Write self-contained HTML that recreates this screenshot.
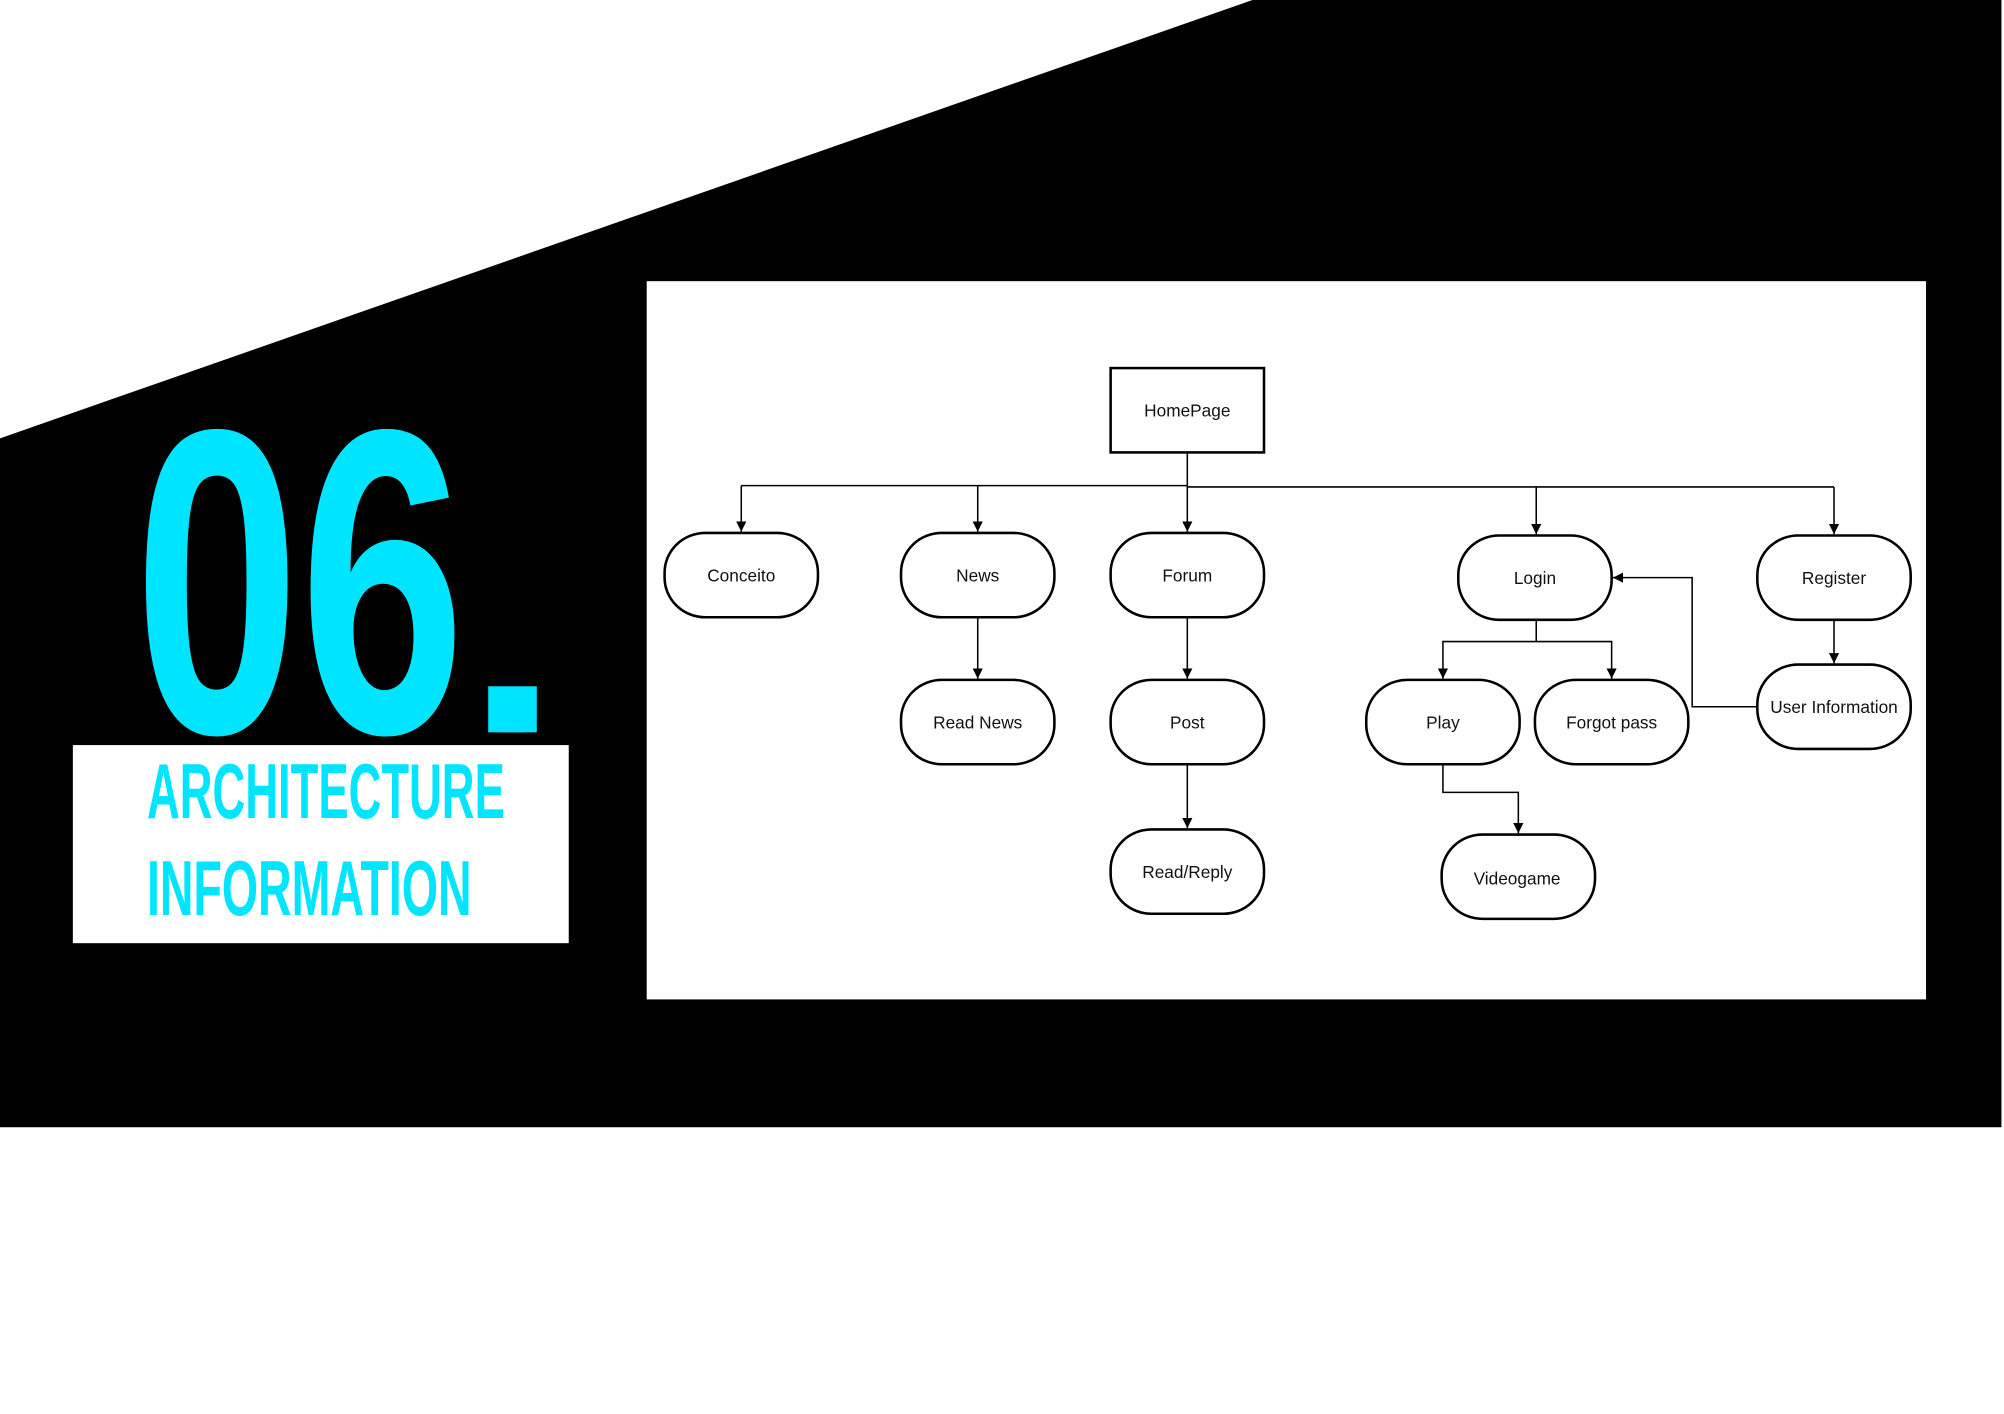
<!DOCTYPE html>
<html><head><meta charset="utf-8"><style>
html,body{margin:0;padding:0;background:#fff;width:2004px;height:1414px;overflow:hidden}
svg{display:block}
</style></head><body>
<svg width="2004" height="1414" viewBox="0 0 1568 1106.4" preserveAspectRatio="none" xmlns="http://www.w3.org/2000/svg">
<defs>
<marker id="a" viewBox="0 0 10 10" refX="10" refY="5" markerWidth="8" markerHeight="8" markerUnits="userSpaceOnUse" orient="auto">
<path d="M0,0 L10,5 L0,10 z" fill="#000"/></marker>
</defs>
<rect width="1568" height="1106.4" fill="#fff"/>
<polygon points="0,343 980,0 1566,0 1566,882 0,882" fill="#000"/>
<rect x="506" y="220" width="1001" height="562" fill="#fff"/>
<text x="105" y="573" font-family="Liberation Sans" font-weight="bold" font-size="340" fill="#00e5ff" textLength="259" lengthAdjust="spacingAndGlyphs">06</text>
<rect x="382" y="537" width="38" height="36" fill="#00e5ff"/>
<text x="380" y="573" font-family="Liberation Sans" font-weight="bold" font-size="240" fill="#00e5ff" textLength="40" lengthAdjust="spacingAndGlyphs">.</text>
<rect x="57" y="583" width="388" height="155" fill="#fff"/>
<text x="115" y="640" font-family="Liberation Sans" font-weight="bold" font-size="61" fill="#00e5ff" textLength="280" lengthAdjust="spacingAndGlyphs">ARCHITECTURE</text>
<text x="115" y="716" font-family="Liberation Sans" font-weight="bold" font-size="61" fill="#00e5ff" textLength="254" lengthAdjust="spacingAndGlyphs">INFORMATION</text>

<g fill="none" stroke="#000" stroke-width="1.2">
<path d="M929,354 V380"/>
<path d="M580,380 H929 M929,381 H1435"/>
<path d="M580,380 V416" marker-end="url(#a)"/>
<path d="M765,380 V416" marker-end="url(#a)"/>
<path d="M929,380 V416" marker-end="url(#a)"/>
<path d="M1202,381 V418" marker-end="url(#a)"/>
<path d="M1435,381 V418" marker-end="url(#a)"/>
<path d="M765,484 V531" marker-end="url(#a)"/>
<path d="M929,484 V531" marker-end="url(#a)"/>
<path d="M929,598 V648" marker-end="url(#a)"/>
<path d="M1202,485 V502 H1129 V531" marker-end="url(#a)"/>
<path d="M1202,502 H1261 V531" marker-end="url(#a)"/>
<path d="M1129,598 V620 H1188 V652" marker-end="url(#a)"/>
<path d="M1435,485 V519" marker-end="url(#a)"/>
<path d="M1375,553 H1324 V452 H1262" marker-end="url(#a)"/>
</g>

<g fill="#fff" stroke="#000" stroke-width="2">
<rect x="869" y="288" width="120" height="66"/>
<rect x="520" y="417" width="120" height="66" rx="32" ry="31"/>
<rect x="705" y="417" width="120" height="66" rx="32" ry="31"/>
<rect x="869" y="417" width="120" height="66" rx="32" ry="31"/>
<rect x="1141" y="419" width="120" height="66" rx="32" ry="31"/>
<rect x="1375" y="419" width="120" height="66" rx="32" ry="31"/>
<rect x="705" y="532" width="120" height="66" rx="32" ry="31"/>
<rect x="869" y="532" width="120" height="66" rx="32" ry="31"/>
<rect x="1069" y="532" width="120" height="66" rx="32" ry="31"/>
<rect x="1201" y="532" width="120" height="66" rx="32" ry="31"/>
<rect x="1375" y="520" width="120" height="66" rx="32" ry="31"/>
<rect x="869" y="649" width="120" height="66" rx="32" ry="31"/>
<rect x="1128" y="653" width="120" height="66" rx="32" ry="31"/>
</g>

<g font-family="Liberation Sans" font-size="13.5" fill="#111" text-anchor="middle">
<text x="929" y="326">HomePage</text>
<text x="580" y="455">Conceito</text>
<text x="765" y="455">News</text>
<text x="929" y="455">Forum</text>
<text x="1201" y="457">Login</text>
<text x="1435" y="457">Register</text>
<text x="765" y="570">Read News</text>
<text x="929" y="570">Post</text>
<text x="1129" y="570">Play</text>
<text x="1261" y="570">Forgot pass</text>
<text x="1435" y="558">User Information</text>
<text x="929" y="687">Read/Reply</text>
<text x="1187" y="692">Videogame</text>
</g>
</svg>
</body></html>
